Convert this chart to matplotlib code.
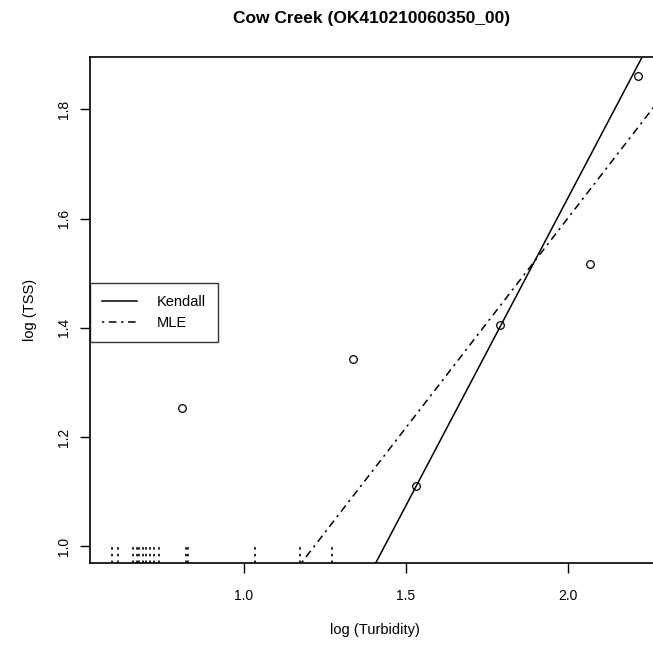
import numpy as np
import matplotlib.pyplot as plt

plt.rcParams['font.family'] = ['Liberation Sans', 'DejaVu Sans']

# detected observations (log10 turbidity, log10 TSS)
turb = [0.809, 1.336, 1.531, 1.790, 2.068, 2.216]
tss = [1.253, 1.342, 1.110, 1.405, 1.516, 1.861]

# censored observations (TSS below detection limit of log 1.0)
cens_turb = [0.593, 0.611, 0.657, 0.670, 0.676, 0.688, 0.698, 0.710,
             0.722, 0.738, 0.820, 0.826, 1.034, 1.173, 1.272]
det_limit = 1.0

# fitted lines: (intercept, slope)
kendall = (-0.617, 1.1275)
mle = (0.065, 0.768)

W, H = 653, 652
fig = plt.figure(figsize=(W / 100, H / 100), dpi=100)
# plot region in pixels
left, right, top, bottom = 90, 660, 57, 563
ax = fig.add_axes([left / W, 1 - bottom / H, (right - left) / W, (bottom - top) / H])

x0 = 0.525
x1 = 1 + (right - 244) / 324
ax.set_xlim(x0, x1)
ax.set_ylim(0.969, 1.896)

ax.plot(turb, tss, 'o', mfc='none', mec='black', ms=5.5, mew=0.9)
ylo = ax.get_ylim()[0]
ax.vlines(cens_turb, ylo, det_limit, colors='black', linestyles=(0, (1.5, 2.5)), lw=1.2)

xs = np.array([x0, x1])
ax.plot(xs, kendall[0] + kendall[1] * xs, color='black', lw=1.1, label='Kendall')
ax.plot(xs, mle[0] + mle[1] * xs, color='black', lw=1.1, dashes=(1.5, 3, 5, 3), label='MLE')

ax.set_xticks([1.0, 1.5, 2.0])
ax.set_xticklabels(['1.0', '1.5', '2.0'])
ax.set_yticks([1.0, 1.2, 1.4, 1.6, 1.8])
ax.set_yticklabels(['1.0', '1.2', '1.4', '1.6', '1.8'], rotation=90, va='center')
ax.tick_params(direction='out', length=7, width=1, labelsize=10)
ax.tick_params(axis='x', pad=12)
ax.tick_params(axis='y', pad=7)
for s in ax.spines.values():
    s.set_linewidth(1.2)

ax.set_xlabel('log (Turbidity)', fontsize=10.5, labelpad=14)
ax.set_ylabel('log (TSS)', fontsize=10.5, labelpad=14)
fig.text((left + 653) / 2 / W, 1 - 18 / H, 'Cow Creek (OK410210060350_00)',
         ha='center', va='center', fontsize=12.5, fontweight='bold')

leg = ax.legend(loc='upper left', bbox_to_anchor=(0, 1 - (283 - top) / (bottom - top)),
                frameon=True, fancybox=False, edgecolor='black', fontsize=10.5,
                borderaxespad=0, handlelength=2.4, handletextpad=1.3,
                borderpad=0.85, labelspacing=0.45)
leg.get_frame().set_linewidth(1.0)

fig.savefig('out.png', dpi=100)
